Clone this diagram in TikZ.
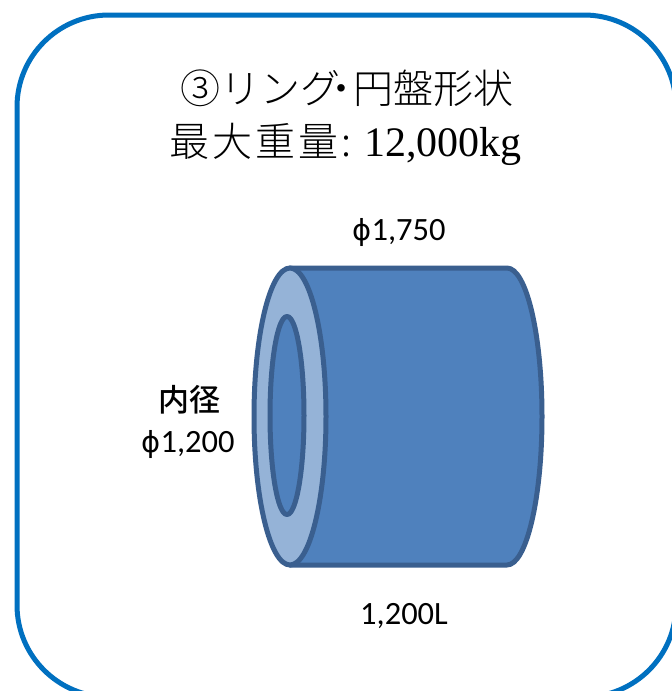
\documentclass[tikz,border=0pt]{standalone}
\usepackage{fontspec}
\setmainfont{Liberation Serif}
\newfontfamily\cjk{Noto Sans CJK JP Light}
\newfontfamily\cjkspaced[LetterSpace=7.5]{Noto Sans CJK JP Light}
\newfontfamily\labelfont{Carlito}
\newfontfamily\labelcjk{Noto Sans CJK JP Medium}
\newfontfamily\phifont{DejaVu Sans}
\begin{document}
\begin{tikzpicture}[x=1pt,y=-1pt,
  frame/.style={draw=frameblue,line width=5pt,rounded corners=92pt},
  solid part/.style={draw=edgeblue,line width=5pt,fill=bodyblue,line join=round},
  ring part/.style={draw=edgeblue,line width=5pt,fill=ringblue},
  titletext/.style={font=\fontsize{40}{40}\selectfont,anchor=base west,inner sep=0pt},
  dimtext/.style={font=\labelfont\fontsize{32.5}{32.5}\selectfont,anchor=base,inner sep=0pt,text=black}]
\definecolor{frameblue}{HTML}{0070C0}
\definecolor{edgeblue}{HTML}{3A5F8F}
\definecolor{bodyblue}{HTML}{4F81BD}
\definecolor{ringblue}{HTML}{95B3D7}
\useasboundingbox (0,0) rectangle (672,691);
\clip (0,0) rectangle (672,691);
\fill[white] (0,0) rectangle (672,691);
\draw[frame] (17,697) -- (17,15) -- (676,15) -- (676,697) -- cycle;
\node[titletext] (title1) at (180,103) {\cjk ③リング\kern-19pt・\kern-8pt円盤形状};
\node[titletext] (title2) at (169,156) {\cjkspaced 最大重量\kern3pt:\kern13pt\rmfamily\fontsize{42}{42}\selectfont 12,000kg};
\draw[solid part] (290,268) -- (507,268) arc[start angle=-90,end angle=90,x radius=35,y radius=148.5] -- (290,565) -- cycle;
\draw[ring part] (290,416.5) ellipse[x radius=36,y radius=148.5];
\draw[solid part] (287,415.5) ellipse[x radius=17,y radius=99];
\node[dimtext] (outer) at (399,240) {{\phifont\fontsize{29}{29}\selectfont ϕ}1,750};
\node[font=\labelcjk\fontsize{31}{31}\selectfont,anchor=base,inner sep=0pt] (innerlabel) at (189,411) {内径};
\node[dimtext] (inner) at (188,452) {{\phifont\fontsize{29}{29}\selectfont ϕ}1,200};
\node[dimtext] (length) at (404,624) {1,200L};
\end{tikzpicture}
\end{document}
